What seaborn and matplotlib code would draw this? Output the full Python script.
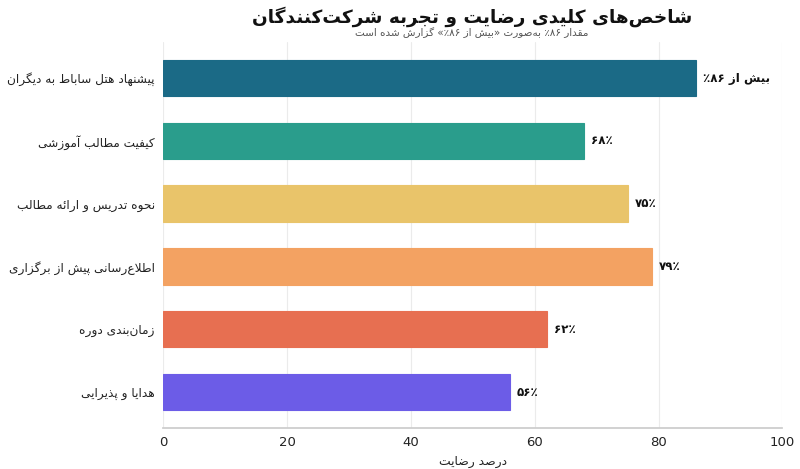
import matplotlib
matplotlib.use("Agg")
import matplotlib.pyplot as plt
from matplotlib import font_manager
import seaborn as sns
import pandas as pd

# data
categories = [
    "پیشنهاد هتل ساباط به دیگران",
    "کیفیت مطالب آموزشی",
    "نحوه تدریس و ارائه مطالب",
    "اطلاع‌رسانی پیش از برگزاری",
    "زمان‌بندی دوره",
    "هدایا و پذیرایی",
]
values = [86, 68, 75, 79, 62, 56]
value_labels = ["بیش از ۸۶٪", "۶۸٪", "۷۵٪", "۷۹٪", "۶۲٪", "۵۶٪"]
colors = ["#1b6a86", "#2a9d8c", "#e9c46a", "#f3a262", "#e76f51", "#6c5ce7"]

title = "شاخص‌های کلیدی رضایت و تجربه شرکت‌کنندگان"
subtitle = "مقدار ۸۶٪ به‌صورت «بیش از ۸۶٪» گزارش شده است"
xlabel = "درصد رضایت"

# --- tiny arabic/persian shaper + bidi (no external packages) ---
# char: (isolated, final, initial, medial) ; None -> right-joining only
FORMS = {
    "\u0621": (0xFE80, None, None, None),
    "\u0622": (0xFE81, 0xFE82, None, None),
    "\u0623": (0xFE83, 0xFE84, None, None),
    "\u0624": (0xFE85, 0xFE86, None, None),
    "\u0625": (0xFE87, 0xFE88, None, None),
    "\u0626": (0xFE89, 0xFE8A, 0xFE8B, 0xFE8C),
    "\u0627": (0xFE8D, 0xFE8E, None, None),
    "\u0628": (0xFE8F, 0xFE90, 0xFE91, 0xFE92),
    "\u0629": (0xFE93, 0xFE94, None, None),
    "\u062A": (0xFE95, 0xFE96, 0xFE97, 0xFE98),
    "\u062B": (0xFE99, 0xFE9A, 0xFE9B, 0xFE9C),
    "\u062C": (0xFE9D, 0xFE9E, 0xFE9F, 0xFEA0),
    "\u062D": (0xFEA1, 0xFEA2, 0xFEA3, 0xFEA4),
    "\u062E": (0xFEA5, 0xFEA6, 0xFEA7, 0xFEA8),
    "\u062F": (0xFEA9, 0xFEAA, None, None),
    "\u0630": (0xFEAB, 0xFEAC, None, None),
    "\u0631": (0xFEAD, 0xFEAE, None, None),
    "\u0632": (0xFEAF, 0xFEB0, None, None),
    "\u0633": (0xFEB1, 0xFEB2, 0xFEB3, 0xFEB4),
    "\u0634": (0xFEB5, 0xFEB6, 0xFEB7, 0xFEB8),
    "\u0635": (0xFEB9, 0xFEBA, 0xFEBB, 0xFEBC),
    "\u0636": (0xFEBD, 0xFEBE, 0xFEBF, 0xFEC0),
    "\u0637": (0xFEC1, 0xFEC2, 0xFEC3, 0xFEC4),
    "\u0638": (0xFEC5, 0xFEC6, 0xFEC7, 0xFEC8),
    "\u0639": (0xFEC9, 0xFECA, 0xFECB, 0xFECC),
    "\u063A": (0xFECD, 0xFECE, 0xFECF, 0xFED0),
    "\u0641": (0xFED1, 0xFED2, 0xFED3, 0xFED4),
    "\u0642": (0xFED5, 0xFED6, 0xFED7, 0xFED8),
    "\u0643": (0xFED9, 0xFEDA, 0xFEDB, 0xFEDC),
    "\u0644": (0xFEDD, 0xFEDE, 0xFEDF, 0xFEE0),
    "\u0645": (0xFEE1, 0xFEE2, 0xFEE3, 0xFEE4),
    "\u0646": (0xFEE5, 0xFEE6, 0xFEE7, 0xFEE8),
    "\u0647": (0xFEE9, 0xFEEA, 0xFEEB, 0xFEEC),
    "\u0648": (0xFEED, 0xFEEE, None, None),
    "\u0649": (0xFEEF, 0xFEF0, None, None),
    "\u064A": (0xFEF1, 0xFEF2, 0xFEF3, 0xFEF4),
    "\u067E": (0xFB56, 0xFB57, 0xFB58, 0xFB59),
    "\u0686": (0xFB7A, 0xFB7B, 0xFB7C, 0xFB7D),
    "\u0698": (0xFB8A, 0xFB8B, None, None),
    "\u06A9": (0xFB8E, 0xFB8F, 0xFB90, 0xFB91),
    "\u06AF": (0xFB92, 0xFB93, 0xFB94, 0xFB95),
    "\u06CC": (0xFBFC, 0xFBFD, 0xFBFE, 0xFBFF),
}
LAM_ALEF = {"\u0622": (0xFEF5, 0xFEF6), "\u0623": (0xFEF7, 0xFEF8),
            "\u0625": (0xFEF9, 0xFEFA), "\u0627": (0xFEFB, 0xFEFC)}
DIGITS = set("0123456789\u06F0\u06F1\u06F2\u06F3\u06F4\u06F5\u06F6\u06F7\u06F8\u06F9")


def dual(c):
    return c in FORMS and FORMS[c][2] is not None


def shape(text):
    out = []
    i = 0
    n = len(text)
    while i < n:
        c = text[i]
        if c not in FORMS:
            if c != "\u200c":
                out.append(c)
            i += 1
            continue
        prev = text[i - 1] if i > 0 else ""
        joins_prev = dual(prev) and c in FORMS
        if c == "\u0644" and i + 1 < n and text[i + 1] in LAM_ALEF:
            iso, fin = LAM_ALEF[text[i + 1]]
            out.append(chr(fin if joins_prev else iso))
            i += 2
            continue
        nxt = text[i + 1] if i + 1 < n else ""
        joins_next = dual(c) and nxt in FORMS
        iso, fin, ini, med = FORMS[c]
        if joins_prev and joins_next:
            code = med
        elif joins_prev:
            code = fin
        elif joins_next:
            code = ini
        else:
            code = iso
        out.append(chr(code))
        i += 1
    return "".join(out)


def rtl(text):
    # digit runs stay left-to-right; ٪ sticks to the digits only when no
    # arabic letter came before them (EN vs AN in the bidi algorithm)
    shaped = shape(text)
    runs = []
    buf = ""
    seen_letter = False
    i = 0
    while i < len(shaped):
        c = shaped[i]
        if c in DIGITS:
            j = i
            while j < len(shaped) and shaped[j] in DIGITS:
                j += 1
            if not seen_letter and j < len(shaped) and shaped[j] in "\u066A%":
                j += 1
            if buf:
                runs.append(("r", buf))
                buf = ""
            runs.append(("l", shaped[i:j]))
            i = j
            continue
        if ord(c) >= 0x0600:
            seen_letter = True
        buf += c
        i += 1
    if buf:
        runs.append(("r", buf))
    mirror = {"«": "»", "»": "«", "(": ")", ")": "("}
    vis = []
    for kind, s in reversed(runs):
        if kind == "l":
            vis.append(s)
        else:
            vis.append("".join(mirror.get(ch, ch) for ch in reversed(s)))
    return "".join(vis)


sns.set_theme(style="whitegrid")
plt.rcParams["font.family"] = ["DejaVu Sans"]

# the persian text looks like the condensed cut; fall back to scaled regular
try:
    font_manager.findfont("DejaVu Sans Condensed", fallback_to_default=False)
    fa_family = ["DejaVu Sans Condensed", "DejaVu Sans"]
    k = 1.0
except ValueError:
    fa_family = ["DejaVu Sans"]
    k = 0.87

df = pd.DataFrame({"category": [rtl(c) for c in categories], "value": values})

fig = plt.figure(figsize=(8, 4.69), dpi=100)
ax = fig.add_axes([0.204, 0.0874, 0.774, 0.823])

sns.barplot(data=df, x="value", y="category", hue="category", palette=colors,
            legend=False, width=0.58, ax=ax, saturation=1, linewidth=0.8)
for patch, col in zip(ax.patches, colors):
    patch.set_edgecolor(col)

for i, (v, lab) in enumerate(zip(values, value_labels)):
    ax.text(v + 1.1, i, rtl(lab), va="center", ha="left", family=fa_family,
            fontsize=9.8 * k, fontweight="bold", color="#111111")

ax.set_xlim(0, 100)
ax.set_ylim(5.573, -0.573)
ax.set_xticks([0, 20, 40, 60, 80, 100])
ax.set_ylabel("")
ax.set_xlabel(rtl(xlabel), fontsize=10.3 * k, color="#222222", labelpad=4,
              family=fa_family)
ax.grid(axis="y", visible=False)
ax.grid(axis="x", color="#ebebeb", linewidth=0.8)
sns.despine(ax=ax, left=True)
ax.spines["bottom"].set_color("#cccccc")
ax.tick_params(axis="y", length=3, color="#333333", labelsize=10 * k, pad=3)
ax.tick_params(axis="x", length=3, color="#333333", labelsize=9.5, pad=3)
for t in ax.get_yticklabels():
    t.set_family(fa_family)
for t in ax.get_yticklabels() + ax.get_xticklabels():
    t.set_color("#222222")

fig.text(0.59, 1 - 17 / 469, rtl(title), ha="center", va="center",
         family=fa_family, fontsize=15.3 * k, fontweight="bold",
         color="#111111")
fig.text(0.59, 1 - 33 / 469, rtl(subtitle), ha="center", va="center",
         family=fa_family, fontsize=8.6 * k, color="#555555")

fig.savefig("out.png", dpi=100)
